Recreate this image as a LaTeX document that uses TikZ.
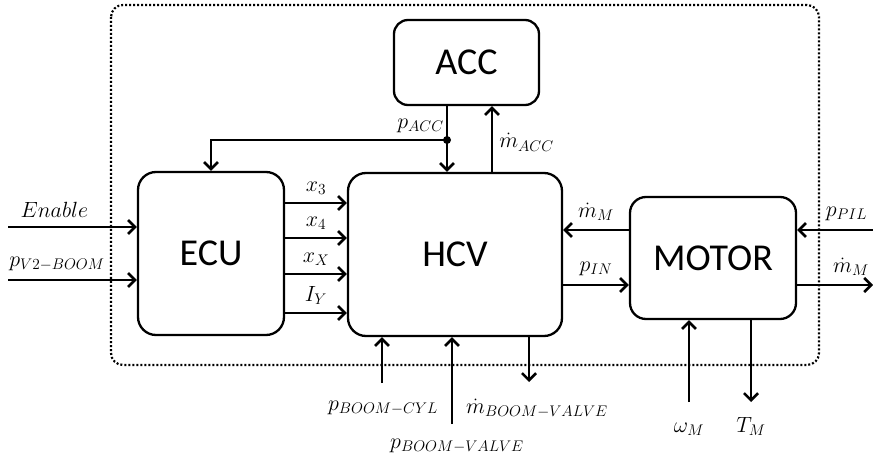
\documentclass[tikz,border=0pt]{standalone}
\usepackage{fix-cm}
\usepackage{fontspec}
\setmainfont{Carlito}
\usepackage{tikz}
\usetikzlibrary{arrows.meta,positioning}

\begin{document}
\begin{tikzpicture}[x=1pt,y=-1pt,
blk/.style={draw, rounded corners=18pt, line width=2.3pt, inner sep=0pt,
font=\fontsize{38}{40}\selectfont},
sig/.style={font=\fontsize{22}{25}\selectfont, inner sep=2pt},
arrow/.style={-{Straight Barb[length=7pt,width=14pt]}, line width=2.6pt},
frame/.style={line width=2.2pt, dash pattern=on 2pt off 2pt, rounded corners=12pt}
]
\useasboundingbox (0,0) rectangle (873,457);

% subsystem frame
\draw[frame] (111,5) rectangle (819,365);

\node[blk, minimum width=146pt, minimum height=163pt] (ECU) at (211,253.5) {ECU};
\node[blk, minimum width=214pt, minimum height=163pt] (HCV) at (455,254.5) {HCV};
\node[blk, rounded corners=14pt, minimum width=145pt, minimum height=85pt] (ACC) at (466.5,62.5) {ACC};
\node[blk, rounded corners=16pt, minimum width=166pt, minimum height=122pt] (MOTOR) at (713,258) {MOTOR};

% free ends
\coordinate (enIn) at (8,227);
\coordinate (pvIn) at (8,280);
\coordinate (rowA) at (0,230);
\coordinate (rowB) at (0,285);
\coordinate (pilIn) at (873,230);
\coordinate (mOut) at (873,285);
\coordinate (wIn) at (689,402);
\coordinate (tOut) at (751,402);
\coordinate (cylIn) at (382,383);
\coordinate (valIn) at (452,424);
\coordinate (mvOut) at (529,382);
\coordinate (jn) at (447,140);
\coordinate (mAcc) at (492,0);

\draw[arrow] (enIn) -- node[sig, pos=0.36, above=6pt]{$Enable$} (enIn -| ECU.west);
\draw[arrow] (pvIn) -- node[sig, pos=0.38, above=6pt]{$p_{V2-BOOM}$} (pvIn -| ECU.west);

\foreach \yy/\lab in {203/x_3, 238/x_4, 274/x_X, 313/I_Y}
  \draw[arrow] (ECU.east |- 0,\yy) -- node[sig, above=5pt]{$\lab$} (HCV.west |- 0,\yy);

\draw[arrow] (jn |- ACC.south) -- node[sig, pos=0.3, left]{$p_{ACC}$} (jn |- HCV.north);
\fill (jn) circle (4pt);
\draw[arrow] (jn) -| (ECU.north);
\draw[arrow] (mAcc |- HCV.north) -- node[sig, pos=0.45, right=4pt]{$\dot m_{ACC}$} (mAcc |- ACC.south);

\draw[arrow] (MOTOR.west |- rowA) -- node[sig, above=6pt]{$\dot m_M$} (HCV.east |- rowA);
\draw[arrow] (HCV.east |- rowB) -- node[sig, above=6pt]{$p_{IN}$} (MOTOR.west |- rowB);
\draw[arrow] (pilIn) -- node[sig, pos=0.35, above=6pt]{$p_{PIL}$} (pilIn -| MOTOR.east);
\draw[arrow] (mOut -| MOTOR.east) -- node[sig, pos=0.71, above=6pt]{$\dot m_M$} (mOut);

\draw[arrow] (wIn) node[sig, anchor=base, yshift=-30pt]{$\omega_M$} -- (wIn |- MOTOR.south);
\draw[arrow] (tOut |- MOTOR.south) -- (tOut) node[sig, anchor=base, yshift=-30pt]{$T_M$};

\draw[arrow] (cylIn) node[sig, anchor=base, xshift=1pt, yshift=-27pt]{$p_{BOOM-CYL}$} -- (cylIn |- HCV.south);
\draw[arrow] (valIn) node[sig, anchor=base, xshift=5pt, yshift=-24pt]{$p_{BOOM-VALVE}$} -- (valIn |- HCV.south);
\draw[arrow] (mvOut |- HCV.south) -- (mvOut) node[sig, anchor=base, xshift=8pt, yshift=-31pt]{$\dot m_{BOOM-VALVE}$};

\end{tikzpicture}
\end{document}
